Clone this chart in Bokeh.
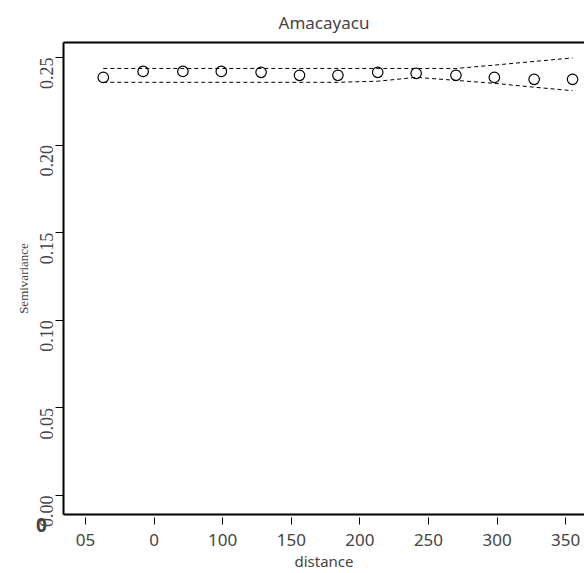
import math
from bokeh.plotting import figure
from bokeh.models import LinearAxis, FixedTicker, Range1d, Label, NumeralTickFormatter
from bokeh.embed import file_html
from bokeh.resources import INLINE

# data
distance = [13, 42, 71, 99, 128, 156, 184, 213, 241, 270, 298, 327, 355]
semivariance = [0.2386, 0.2420, 0.2420, 0.2420, 0.2415, 0.2398, 0.2398,
                0.2415, 0.2409, 0.2398, 0.2386, 0.2375, 0.2375]
env_upper = [0.2437, 0.2437, 0.2437, 0.2437, 0.2437, 0.2437, 0.2437,
             0.2437, 0.2437, 0.2437, 0.2456, 0.2477, 0.2497]
env_lower = [0.2358, 0.2358, 0.2358, 0.2358, 0.2358, 0.2358, 0.2358,
             0.2364, 0.2386, 0.2369, 0.2352, 0.2330, 0.2310]
x_ticks = [0, 50, 100, 150, 200, 250, 300, 350]
x_tick_labels = {0: "05", 50: "0"}
y_ticks = [0.0, 0.05, 0.10, 0.15, 0.20, 0.25]

p = figure(width=584, height=573, output_backend="svg", toolbar_location=None,
           x_range=Range1d(-16.0, 363.7), y_range=Range1d(-0.0108, 0.2585),
           x_axis_location=None, y_axis_location=None,
           min_border_left=63, min_border_right=0, min_border_top=42, min_border_bottom=57)
p.outline_line_color = None
p.grid.visible = False
p.background_fill_color = "white"

# title
p.title.text = "Amacayacu"
p.title.align = "center"
p.title.text_font = "Noto Sans"
p.title.text_font_size = "17px"
p.title.text_font_style = "normal"
p.title.standoff = 17

# left axis
ya = LinearAxis(ticker=FixedTicker(ticks=y_ticks), axis_label="Semivariance")
ya.formatter = NumeralTickFormatter(format="0.00")
ya.major_label_orientation = math.pi / 2
ya.major_label_text_font = "Liberation Serif"
ya.major_label_text_font_size = "18px"
ya.major_label_standoff = 9
ya.axis_label_text_font = "Liberation Serif"
ya.axis_label_text_font_size = "13px"
ya.axis_label_text_font_style = "normal"
ya.axis_label_standoff = 0
ya.axis_line_width = 2
ya.major_tick_in = 0
ya.major_tick_out = 8
ya.minor_tick_out = 0
ya.minor_tick_in = 0
p.add_layout(ya, "left")

# bottom axis
xa = LinearAxis(ticker=FixedTicker(ticks=x_ticks), axis_label="distance")
xa.major_label_overrides = x_tick_labels
xa.major_label_text_font = "Noto Sans"
xa.major_label_text_font_size = "17px"
xa.major_label_standoff = 9
xa.axis_label_text_font = "Noto Sans"
xa.axis_label_text_font_size = "15px"
xa.axis_label_text_font_style = "normal"
xa.axis_label_standoff = 2
xa.axis_line_width = 2
xa.major_tick_in = -3
xa.major_tick_out = 10
xa.minor_tick_out = 0
xa.minor_tick_in = 0
p.add_layout(xa, "below")

# top border line
ta = LinearAxis(ticker=FixedTicker(ticks=[]))
ta.axis_line_width = 2
ta.major_tick_out = 0
ta.major_tick_in = 0
ta.minor_tick_out = 0
ta.minor_tick_in = 0
ta.major_label_text_font_size = "0px"
p.add_layout(ta, "above")

# envelope
p.line(distance, env_upper, line_color="black", line_width=1, line_dash="4 3")
p.line(distance, env_lower, line_color="black", line_width=1, line_dash="4 3")
# points
p.scatter(distance, semivariance, marker="circle", size=10.5, fill_color=None,
          line_color="black", line_width=1.2)

# stray "0" below the y axis, in the left panel
p.add_layout(Label(x=40, y=-10, x_units="screen", y_units="screen", text="0",
                   text_align="center", text_baseline="middle",
                   text_font="Noto Sans", text_font_size="19px", text_font_style="bold"),
             "left")

open("out.html", "w").write(file_html(p, INLINE))
